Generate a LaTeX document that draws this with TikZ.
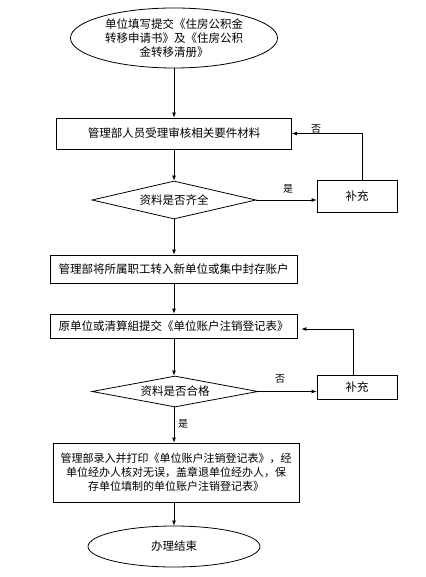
\documentclass[tikz,border=0pt]{standalone}
\usepackage{fontspec}
\newfontfamily\cjk{Noto Sans CJK SC}
\usetikzlibrary{arrows.meta,shapes.geometric}
\tikzset{
    flowbox/.style={
        draw,
        rectangle,
        line width=0.8pt,
        inner sep=0pt,
        align=center,
        font=\cjk\fontsize{11.5}{14}\selectfont
    },
    flowdia/.style={
        draw,
        diamond,
        aspect=4.3,
        line width=0.8pt,
        inner sep=0pt,
        font=\cjk\fontsize{11.5}{14}\selectfont
    },
    flowell/.style={
        draw,
        ellipse,
        line width=0.8pt,
        inner sep=0pt,
        align=center,
        font=\cjk\fontsize{11.5}{14}\selectfont
    },
    % 流程箭头
    flowarrow/.style={
        line width=0.8pt,
        ->,
        >={Latex[length=5pt, width=4pt]}
    },
    flowlabel/.style={
        inner sep=0pt,
        font=\cjk\fontsize{10}{12}\selectfont
    }
}

\begin{document}
\begin{tikzpicture}[x=1pt,y=-1pt]
    \useasboundingbox (0,0) rectangle (425,577);
    \node[flowell, minimum width=207pt, minimum height=60pt] (start) at (174,38)
        {单位填写提交《住房公积金\\转移申请书》及《住房公积\\金转移清册》};
    \node[flowbox, minimum width=235pt, minimum height=31pt] (check) at (174,133.5)
        {管理部人员受理审核相关要件材料};
    \node[flowdia, minimum width=164pt, minimum height=38pt] (full) at (174,200) {资料是否齐全};
    \node[flowbox, minimum width=80pt, minimum height=32pt] (add1) at (357,196) {补充};
    \node[flowbox, minimum width=247pt, minimum height=28pt] (move) at (173.5,269)
        {管理部将所属职工转入新单位或集中封存账户};
    \node[flowbox, minimum width=247pt, minimum height=24pt] (submit) at (173.5,326)
        {原单位或清算組提交《单位账户注销登记表》};
    \node[flowdia, minimum width=166pt, minimum height=31pt] (ok) at (175,391.5) {资料是否合格};
    \node[flowbox, minimum width=80pt, minimum height=24pt] (add2) at (357,387) {补充};
    \node[flowbox, minimum width=246pt, minimum height=59pt, font=\cjk\fontsize{11}{14}\selectfont] (print) at (176,472.5)
        {管理部录入并打印《单位账户注销登记表》，经\\单位经办人核对无误，盖章退单位经办人，保\\存单位填制的单位账户注销登记表》};
    \node[flowell, minimum width=172pt, minimum height=41pt] (finish) at (174,546.5) {办理结束};

    \draw[flowarrow] (start.south) -- (start.south |- check.north);
    \draw[flowarrow] (check.south) -- (check.south |- full.north);
    \draw[flowarrow] (full.east) -- (full.east -| add1.west);
    \draw[flowarrow] ([xshift=5pt]add1.north) |- (check.east);
    \draw[flowarrow] (full.south) -- (full.south |- move.north);
    \draw[flowarrow] (full.south |- move.south) -- (full.south |- submit.north);
    \draw[flowarrow] (full.south |- submit.south) -- (full.south |- ok.north);
    \draw[flowarrow] (ok.east) -- (ok.east -| add2.west);
    \draw[flowarrow] ([xshift=-4pt]add2.north) |- ([xshift=4pt,yshift=-3pt]submit.east);
    \draw[flowarrow] (full.south |- ok.south) -- (full.south |- print.north);
    \draw[flowarrow] (full.south |- print.south) -- (full.south |- finish.north);

    \node[flowlabel] (yes1) at (288,189) {是};
    \node[flowlabel] (no1) at (316,129) {否};
    \node[flowlabel] (no2) at (280,379) {否};
    \node[flowlabel] (yes2) at (183,424) {是};
\end{tikzpicture}
\end{document}
